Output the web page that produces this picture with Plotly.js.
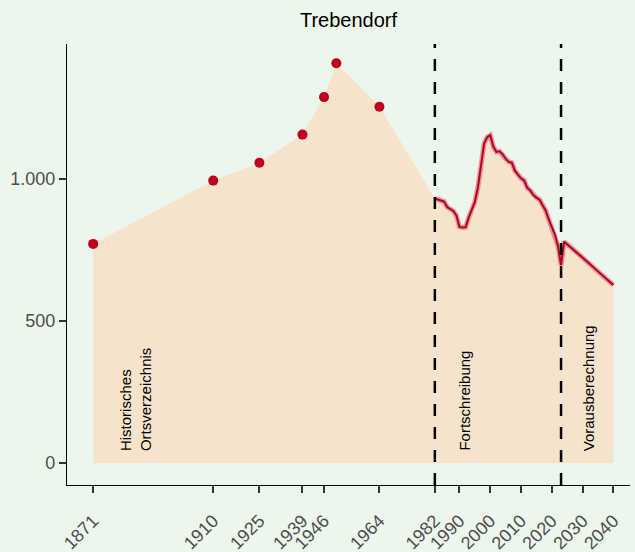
<!DOCTYPE html>
<html>
<head>
<meta charset="utf-8">
<script src="https://cdn.plot.ly/plotly-3.0.1.min.js"></script>
<style>
  html, body { margin: 0; padding: 0; background: #EDF6EC; }
  #chart { width: 635px; height: 552px; }
</style>
</head>
<body>
<div id="chart"></div>
<script>
// Historisches Ortsverzeichnis
const histYears = [1871, 1910, 1925, 1939, 1946, 1950, 1964];
const histPop   = [772, 995, 1058, 1157, 1289, 1408, 1255];

// Fortschreibung
const fortYears = [1982,1983,1984,1985,1986,1987,1988,1989,1990,1991,1992,1993,1994,1995,1996,1997,1998,1999,2000,
                   2001,2002,2003,2004,2005,2006,2007,2008,2009,2010,2011,2012,2013,2014,2015,2016,2017,2018,2019,2020,
                   2021,2022,2023];
const fortPop   = [932,928,924,921,902,895,888,872,832,830,831,865,895,920,972,1055,1125,1148,1155,
                   1115,1096,1098,1088,1072,1061,1058,1030,1016,1003,996,970,960,944,935,928,908,890,858,828,
                   805,765,697];

// Vorausberechnung
const projYears = [2024, 2026, 2028, 2030, 2032, 2034, 2036, 2038, 2040];
const projPop   = [780, 762, 743, 724, 705, 685, 666, 646, 627];

// Tick labels
const xTicks = [1871, 1910, 1925, 1939, 1946, 1964, 1982, 1990, 2000, 2010, 2020, 2030, 2040];
const yTicks = [0, 500, 1000];
const yTickText = ["0", "500", "1.000"];

// Section boundaries
const sectionBreaks = [1982, 2023];

const allYears = histYears.concat(fortYears, projYears);
const allPop = histPop.concat(fortPop, projPop);
const lineYears = fortYears.concat(projYears);
const linePop = fortPop.concat(projPop);

const font = "Liberation Sans, Arial, sans-serif";

const traces = [
  { x: allYears, y: allPop, type: "scatter", mode: "none", fill: "tozeroy",
    fillcolor: "#F6E3CC", hoverinfo: "skip", showlegend: false },
  { x: lineYears, y: linePop, type: "scatter", mode: "lines",
    line: { color: "rgba(214,80,100,0.55)", width: 5 }, showlegend: false },
  { x: lineYears, y: linePop, type: "scatter", mode: "lines",
    line: { color: "#B5001F", width: 2 }, showlegend: false },
  { x: histYears, y: histPop, type: "scatter", mode: "markers",
    marker: { color: "#C0001F", size: 10, line: { width: 0 } }, showlegend: false }
];

const shapes = sectionBreaks.map(yr => ({
  type: "line", xref: "x", yref: "paper", x0: yr, x1: yr, y0: 0, y1: 1,
  line: { color: "black", width: 2.5, dash: "12px,11px" }
}));

const annotations = [
  { text: "Historisches<br>Ortsverzeichnis", x: 1884.8, y: 36 },
  { text: "Fortschreibung", x: 1991.7, y: 36 },
  { text: "Vorausberechnung", x: 2032.2, y: 36 }
].map(a => Object.assign(a, {
  xref: "x", yref: "y", textangle: -90, showarrow: false,
  xanchor: "center", yanchor: "bottom", align: "left",
  font: { family: font, size: 15, color: "black" }
}));

const layout = {
  width: 635, height: 552,
  paper_bgcolor: "#EDF6EC", plot_bgcolor: "#EDF6EC",
  margin: { l: 67, r: 5, t: 44, b: 67 },
  title: { text: "Trebendorf", x: 0.5, xref: "paper", y: 1 - 20 / 552, yref: "container",
           yanchor: "middle", font: { family: font, size: 20, color: "black" } },
  xaxis: {
    range: [1862.5, 2045.4], tickmode: "array", tickvals: xTicks, ticktext: xTicks.map(String),
    tickangle: -45, ticks: "outside", ticklen: 7, tickwidth: 2, tickcolor: "#333333",
    showline: true, linecolor: "black", linewidth: 1.2, showgrid: false, zeroline: false,
    tickfont: { family: font, size: 18, color: "#4D4D4D" }, ticklabelstandoff: 10
  },
  yaxis: {
    range: [-77, 1476], tickmode: "array", tickvals: yTicks, ticktext: yTickText,
    ticks: "outside", ticklen: 7, tickwidth: 2, tickcolor: "#333333",
    showline: true, linecolor: "black", linewidth: 1.2, showgrid: false, zeroline: false,
    tickfont: { family: font, size: 18, color: "#4D4D4D" }
  },
  shapes: shapes,
  annotations: annotations
};

Plotly.newPlot("chart", traces, layout, { displayModeBar: false, staticPlot: true });
</script>
</body>
</html>
